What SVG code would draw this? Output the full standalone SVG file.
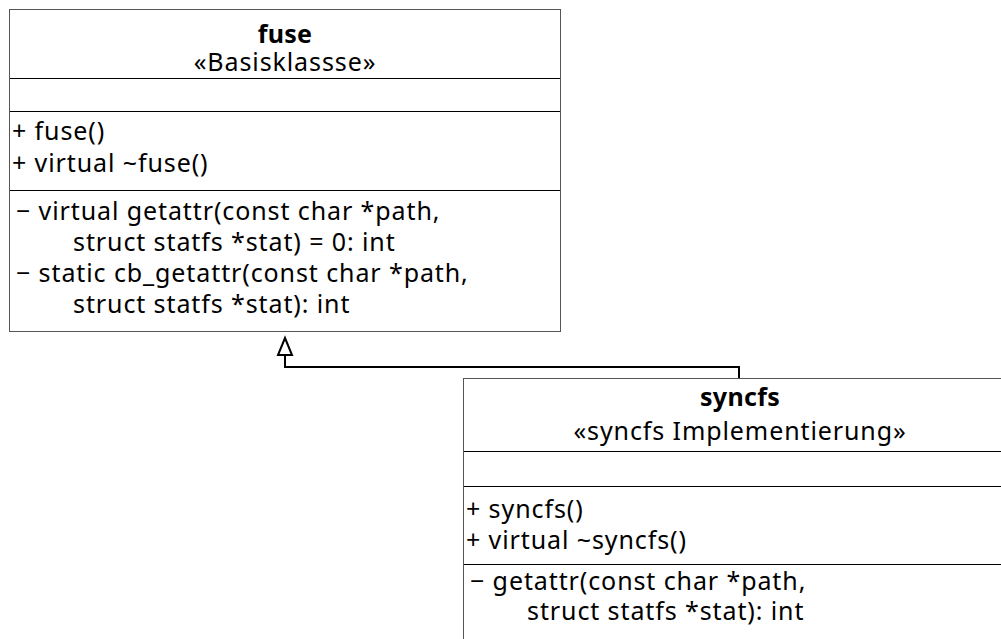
<svg xmlns="http://www.w3.org/2000/svg" width="1001" height="639" viewBox="0 0 1001 639">
<style>
.box{fill:#fff;stroke:#555;stroke-width:1}
.sep{stroke:#000;stroke-width:1}
text{font-family:"Noto Sans","Open Sans",sans-serif;font-size:25px;letter-spacing:0.9px;fill:#000}
.title{font-weight:bold;text-anchor:middle;letter-spacing:0.3px}
.st{text-anchor:middle}
.conn{fill:none;stroke:#000;stroke-width:2}
.head{fill:#fff;stroke:#000;stroke-width:2}
</style>
<rect width="1001" height="639" fill="#fff"/>
<g id="connectors">
<path class="conn" d="M739,378 V367 H285 V355"/>
<polygon class="head" points="285,338 278,355 292,355"/>
</g>
<g id="fuse">
<rect class="box" x="9.5" y="9.5" width="551" height="322"/>
<line class="sep" x1="10" y1="78.5" x2="560" y2="78.5"/>
<line class="sep" x1="10" y1="111.5" x2="560" y2="111.5"/>
<line class="sep" x1="10" y1="190.5" x2="560" y2="190.5"/>
<text class="title" x="285" y="43">fuse</text>
<text class="st" x="285" y="71">«Basisklassse»</text>
<text x="12" y="140">+ fuse()</text>
<text x="12" y="172">+ virtual ~fuse()</text>
<text x="16" y="220">− virtual getattr(const char *path,</text>
<text x="73" y="251">struct statfs *stat) = 0: int</text>
<text x="16" y="282">− static cb_getattr(const char *path,</text>
<text x="73" y="313">struct statfs *stat): int</text>
</g>
<g id="syncfs">
<rect class="box" x="463.5" y="378.5" width="600" height="300"/>
<line class="sep" x1="464" y1="451.5" x2="1001" y2="451.5"/>
<line class="sep" x1="464" y1="486.5" x2="1001" y2="486.5"/>
<line class="sep" x1="464" y1="564.5" x2="1001" y2="564.5"/>
<text class="title" x="740" y="406">syncfs</text>
<text class="st" x="740" y="440">«syncfs Implementierung»</text>
<text x="466" y="518">+ syncfs()</text>
<text x="466" y="549">+ virtual ~syncfs()</text>
<text x="470" y="590">− getattr(const char *path,</text>
<text x="527" y="620">struct statfs *stat): int</text>
</g>
</svg>
